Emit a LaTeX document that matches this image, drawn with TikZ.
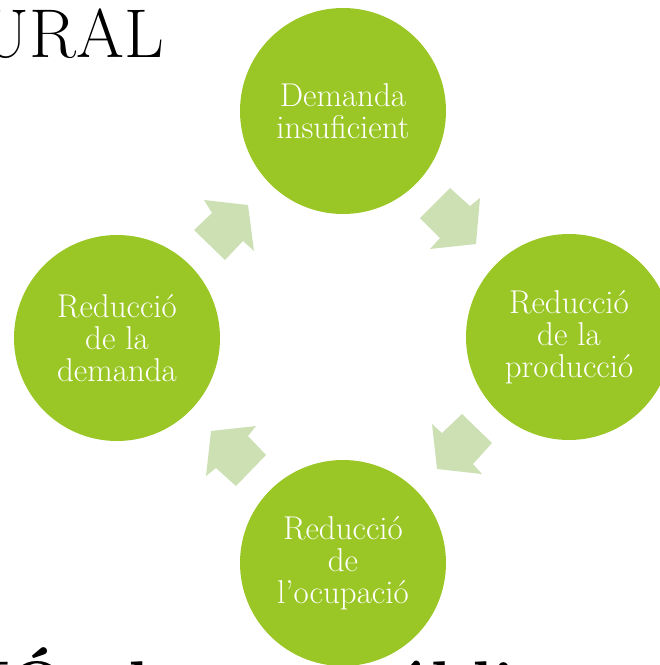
\documentclass[tikz,border=0pt]{standalone}
\definecolor{circgreen}{RGB}{154,199,38}
\definecolor{arrowgreen}{RGB}{204,224,180}
\begin{document}
\begin{tikzpicture}[x=1pt,y=-1pt,
  cyc/.style={circle,fill=circgreen,minimum size=206pt,inner sep=0pt},
  cyctext/.style={text=white,align=center,font=\fontsize{33}{32}\selectfont,inner sep=0pt},
  blockarrow/.style={fill=arrowgreen,draw=none},
  slidetext/.style={inner sep=0pt,text=black}]
\useasboundingbox (0,0) rectangle (660,665);
\clip (0,0) rectangle (660,665);
% slide text behind the diagram
\node[slidetext,anchor=base east,font=\fontsize{69}{80}\selectfont] (title) at (164,57) {URAL};
\node[slidetext,anchor=base west,font=\fontsize{66}{76}\selectfont\bfseries] (bl1) at (-18,707) {IÓ};
\node[slidetext,anchor=base west,font=\fontsize{66}{76}\selectfont\bfseries] (bl2) at (108,707) {de};
\node[slidetext,anchor=base west,font=\fontsize{66}{76}\selectfont\bfseries] (br1) at (349,707) {pública};
% circles
\node[cyc] (top) at (343,111) {};
\node[cyc] (right) at (569,337) {};
\node[cyc] (bottom) at (343,563) {};
\node[cyc] (left) at (117,338) {};
\node[cyctext] (ttop) at (top.center) {Demanda\\insuficient};
\node[cyctext] (tright) at (right.center) {Reducció\\de la\\producció};
\node[cyctext] (tbottom) at (bottom.center) {Reducció\\de\\l’ocupació};
\node[cyctext] (tleft) at (left.center) {Reducció\\de la\\demanda};
% block arrows
\fill[blockarrow] (204,200) -- (248,205) -- (254,251) -- (243,241) -- (225,260) -- (194,230) -- (212,213) -- cycle;
\fill[blockarrow] (450,188) -- (470,206) -- (480,198) -- (476,244) -- (430,249) -- (440,238) -- (420,218) -- cycle;
\fill[blockarrow] (462,414) -- (492,443) -- (473,464) -- (482,474) -- (437,469) -- (432,424) -- (442,433) -- cycle;
\fill[blockarrow] (211,431) -- (256,426) -- (248,436) -- (266,455) -- (236,486) -- (216,468) -- (206,476) -- cycle;
\end{tikzpicture}
\end{document}
